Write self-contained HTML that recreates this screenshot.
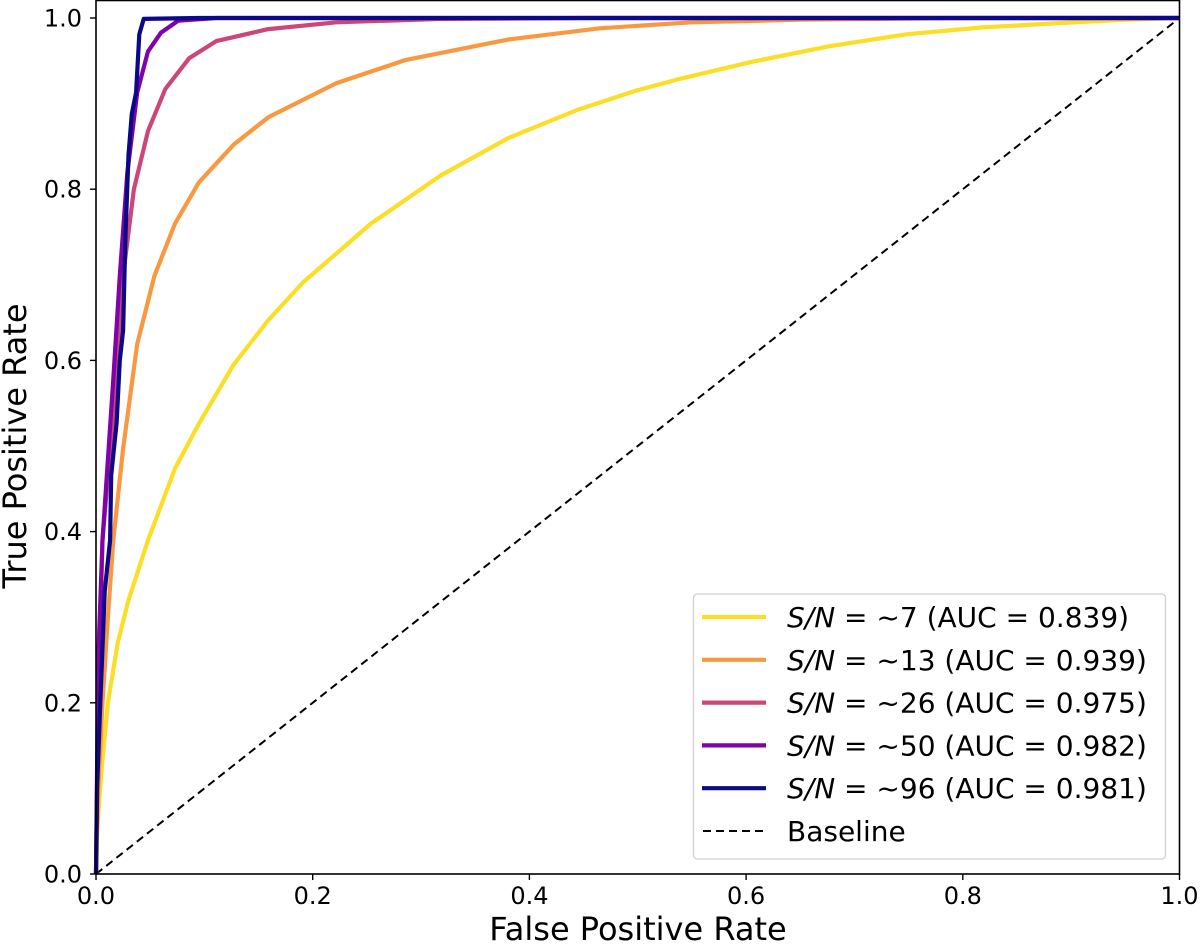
<!DOCTYPE html>
<html><head><meta charset="utf-8"><style>
body{margin:0;background:#fff}
svg{display:block;font-family:"DejaVu Sans","Liberation Sans",sans-serif}
</style></head><body>
<svg id="chart" width="1200" height="946" viewBox="0 0 1200 946">
<g id="marks"></g>
<g id="axes"></g>
<g id="legend"></g>
</svg>
<script>
const xTicks=[0,0.2,0.4,0.6,0.8,1.0];
const yTicks=[0,0.2,0.4,0.6,0.8,1.0];
const tickLabels=["0.0","0.2","0.4","0.6","0.8","1.0"];
const seriesNames=["~7 (AUC = 0.839)","~13 (AUC = 0.939)","~26 (AUC = 0.975)","~50 (AUC = 0.982)","~96 (AUC = 0.981)"];
const fpr7=[0,0.001,0.005,0.011,0.02,0.03,0.048,0.073,0.095,0.127,0.159,0.191,0.254,0.318,0.381,0.445,0.498,0.536,0.606,0.677,0.748,0.818,0.889,0.95,1.0];
const tpr7=[0,0.05,0.12,0.2,0.27,0.32,0.39,0.474,0.526,0.595,0.647,0.691,0.76,0.816,0.86,0.893,0.915,0.928,0.949,0.967,0.981,0.989,0.994,0.998,1.0];
const fpr13=[0,0.002,0.006,0.011,0.016,0.025,0.038,0.054,0.073,0.095,0.127,0.159,0.222,0.286,0.381,0.465,0.55,0.65,0.8,1.0];
const tpr13=[0,0.1,0.2,0.3,0.39,0.497,0.619,0.699,0.76,0.808,0.852,0.884,0.924,0.951,0.975,0.988,0.995,0.998,1.0,1.0];
const fpr26=[0,0.002,0.006,0.016,0.025,0.035,0.048,0.064,0.086,0.111,0.159,0.222,0.318,0.45,1.0];
const tpr26=[0,0.2,0.39,0.538,0.699,0.8,0.868,0.917,0.953,0.973,0.987,0.995,0.999,1.0,1.0];
const fpr50=[0,0.002,0.006,0.016,0.022,0.029,0.038,0.048,0.06,0.076,0.111,1.0];
const tpr50=[0,0.25,0.39,0.578,0.699,0.82,0.913,0.961,0.983,0.997,1.0,1.0];
const fpr96=[0,0.001,0.004,0.008,0.013,0.014,0.019,0.022,0.025,0.027,0.030,0.033,0.037,0.040,0.044,0.095,1.0];
const tpr96=[0,0.1,0.2,0.33,0.39,0.466,0.527,0.6,0.635,0.74,0.84,0.888,0.913,0.981,0.999,1.0,1.0];
const colors=["#fbde27","#fa9842","#cc4778","#7e03a8","#0d0887"];
const NS="http://www.w3.org/2000/svg";
const X0=96,X1=1179.5,Y0=874,YT=0.5;
const sx=v=>X0+v*(X1-X0);
const sy=v=>Y0-v*856;
function mk(tag,attrs,parent){const e=document.createElementNS(NS,tag);for(const k in attrs)e.setAttribute(k,attrs[k]);parent.appendChild(e);return e;}
const marks=document.getElementById('marks'),axes=document.getElementById('axes'),leg=document.getElementById('legend');
const bl=mk('line',{x1:sx(0),y1:sy(0),x2:sx(1),y2:sy(1),stroke:'#000','stroke-width':2,'stroke-dasharray':'8,5'},marks);


const fprs=[fpr7,fpr13,fpr26,fpr50,fpr96],tprs=[tpr7,tpr13,tpr26,tpr50,tpr96];
const snames=['roc-curve-sn7','roc-curve-sn13','roc-curve-sn26','roc-curve-sn50','roc-curve-sn96'];
for(let s=0;s<5;s++){
  const pts=fprs[s].map((f,i)=>sx(f).toFixed(1)+','+sy(tprs[s][i]).toFixed(1)).join(' ');
  const pl=mk('polyline',{points:pts,fill:'none',stroke:colors[s],'stroke-width':4.2,'stroke-linejoin':'round'},marks);
  
  
}
const fr=mk('rect',{x:X0,y:YT,width:X1-X0,height:Y0-YT,fill:'none',stroke:'#000','stroke-width':1.6},axes);


xTicks.forEach((v,i)=>{
  mk('line',{x1:sx(v),y1:Y0,x2:sx(v),y2:Y0+6,stroke:'#000','stroke-width':1.4},axes);
  const t=mk('text',{x:sx(v),y:Y0+30,'font-size':24,'text-anchor':'middle'},axes);t.textContent=tickLabels[i];
  
  
});
yTicks.forEach((v,i)=>{
  mk('line',{x1:X0-6,y1:sy(v),x2:X0,y2:sy(v),stroke:'#000','stroke-width':1.4},axes);
  const t=mk('text',{x:X0-14,y:sy(v)+8.5,'font-size':24,'text-anchor':'end'},axes);t.textContent=tickLabels[i];
  
  
});
const xl=mk('text',{x:638,y:940,'font-size':32,'text-anchor':'middle'},axes);xl.textContent='False Positive Rate';


const yl=mk('text',{x:0,y:0,'font-size':32,'text-anchor':'middle',transform:'translate(26,446) rotate(-90)'},axes);yl.textContent='True Positive Rate';


const lb=mk('rect',{x:693.5,y:594,width:472,height:265,rx:4,fill:'#fff','fill-opacity':0.85,stroke:'#d0d0d0','stroke-width':1.3},leg);


for(let s=0;s<6;s++){
  const cy=617+s*42.8;
  const g=mk('g',{},leg);
  
  
  if(s<5){
    mk('line',{x1:702,y1:cy,x2:766,y2:cy,stroke:colors[s],'stroke-width':4.2},g);
    const t=mk('text',{x:787,y:cy+10,'font-size':28},g);
    const it=mk('tspan',{'font-style':'italic'},t);it.textContent='S/N';
    const r=mk('tspan',{},t);r.textContent=' = '+seriesNames[s];
  } else {
    mk('line',{x1:703,y1:cy,x2:766,y2:cy,stroke:'#000','stroke-width':2,'stroke-dasharray':'8,5'},g);
    const t=mk('text',{x:787,y:cy+10,'font-size':28},g);t.textContent='Baseline';
  }
}
</script>
</body></html>
